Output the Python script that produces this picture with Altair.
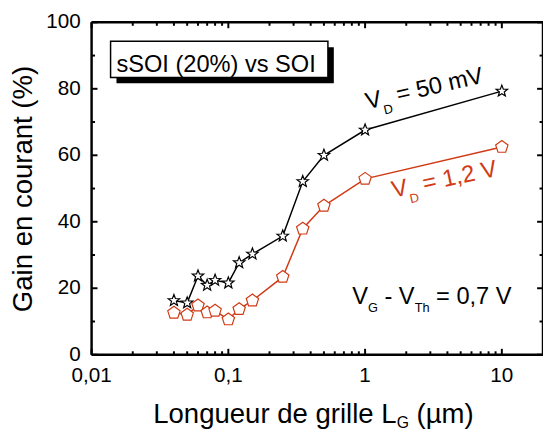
import math
import altair as alt
import pandas as pd

# ---------------- data ----------------
gate_length = [0.04, 0.05, 0.06, 0.07, 0.08, 0.1, 0.12, 0.15, 0.25, 0.35, 0.5, 1, 10]
gain_vd_50mv = [16.3, 15.6, 23.7, 20.9, 22.4, 21.6, 27.7, 30.3, 35.7, 52.1, 60.0, 67.6, 79.3]
gain_vd_1v2 = [12.6, 12.0, 14.8, 12.7, 13.2, 10.6, 13.7, 16.3, 23.4, 37.9, 44.8, 52.9, 62.5]
series_names = ["VD = 50 mV", "VD = 1,2 V"]
x_major = [0.01, 0.1, 1, 10]
x_labels = ["0,01", "0,1", "1", "10"]
x_minor = [0.02, 0.03, 0.04, 0.05, 0.06, 0.07, 0.08, 0.09,
           0.2, 0.3, 0.4, 0.5, 0.6, 0.7, 0.8, 0.9,
           2, 3, 4, 5, 6, 7, 8, 9]
y_major = [0, 20, 40, 60, 80, 100]
y_labels = ["0", "20", "40", "60", "80", "100"]
y_minor = [10, 30, 50, 70, 90]

RED = "#d03a14"
FONT = "Liberation Sans"
W, H = 459, 338

rows = []
for name, vals in zip(series_names, [gain_vd_50mv, gain_vd_1v2]):
    for x, y in zip(gate_length, vals):
        rows.append({"lg": x, "gain": y, "series": name})
df = pd.DataFrame(rows)

xscale = alt.Scale(type="log", domain=[0.01, 20], nice=False)
yscale = alt.Scale(domain=[0, 100], nice=False, zero=False)

STAR = ("M0,-1L0.247,-0.34L0.951,-0.309L0.4,0.13L0.588,0.809L0,0.42"
        "L-0.588,0.809L-0.4,0.13L-0.951,-0.309L-0.247,-0.34Z")
PENT = "M0,-1L0.951,-0.309L0.588,0.809L-0.588,0.809L-0.951,-0.309Z"

color_scale = alt.Scale(domain=series_names, range=["black", RED])

lines = alt.Chart(df).mark_line(strokeWidth=1.5).encode(
    x=alt.X("lg:Q", scale=xscale, axis=None),
    y=alt.Y("gain:Q", scale=yscale, axis=None),
    color=alt.Color("series:N", scale=color_scale, legend=None),
    detail="series:N",
)

points = alt.Chart(df).mark_point(filled=True, fill="white", opacity=1, strokeWidth=1.2).encode(
    x=alt.X("lg:Q", scale=xscale, axis=None),
    y=alt.Y("gain:Q", scale=yscale, axis=None),
    stroke=alt.Stroke("series:N", scale=color_scale, legend=None),
    shape=alt.Shape("series:N", scale=alt.Scale(domain=series_names, range=[STAR, PENT]), legend=None),
    size=alt.Size("series:N", scale=alt.Scale(domain=series_names, range=[150, 175]), legend=None),
)


def xticks(values, size):
    d = pd.DataFrame({"v": values})
    enc_x = alt.X("v:Q", scale=xscale, axis=None)
    bottom = alt.Chart(d).mark_rule(strokeWidth=2, color="black").encode(
        x=enc_x, y=alt.value(H), y2=alt.value(H - size))
    top = alt.Chart(d).mark_rule(strokeWidth=2, color="black").encode(
        x=enc_x, y=alt.value(0), y2=alt.value(size))
    return [bottom, top]


def yticks(values, size):
    d = pd.DataFrame({"v": values})
    enc_y = alt.Y("v:Q", scale=yscale, axis=None)
    left = alt.Chart(d).mark_rule(strokeWidth=2, color="black").encode(
        y=enc_y, x=alt.value(0), x2=alt.value(size))
    right = alt.Chart(d).mark_rule(strokeWidth=2, color="black").encode(
        y=enc_y, x=alt.value(W), x2=alt.value(W - size))
    return [left, right]


ticks = xticks(x_major, 6) + xticks(x_minor, 3.5) + yticks(y_major, 6) + yticks(y_minor, 3.5)

xlab = alt.Chart(pd.DataFrame({"v": x_major, "t": x_labels})).mark_text(
    font=FONT, fontSize=21, color="black", align="center", baseline="alphabetic").encode(
    x=alt.X("v:Q", scale=xscale, axis=None), y=alt.value(H + 28), text="t:N")
ylab = alt.Chart(pd.DataFrame({"v": y_major, "t": y_labels})).mark_text(
    font=FONT, fontSize=21, color="black", align="right", baseline="middle").encode(
    y=alt.Y("v:Q", scale=yscale, axis=None), x=alt.value(-11), text="t:N")

# frame
frame_d = alt.Data(values=[{}])
frame = [
    alt.Chart(frame_d).mark_rule(strokeWidth=2.5, color="black").encode(
        x=alt.value(0), x2=alt.value(W), y=alt.value(0)),
    alt.Chart(frame_d).mark_rule(strokeWidth=2.5, color="black").encode(
        x=alt.value(0), x2=alt.value(W), y=alt.value(H)),
    alt.Chart(frame_d).mark_rule(strokeWidth=2.5, color="black").encode(
        x=alt.value(0), y=alt.value(0), y2=alt.value(H)),
    alt.Chart(frame_d).mark_rule(strokeWidth=2.5, color="black").encode(
        x=alt.value(W), y=alt.value(0), y2=alt.value(H)),
]

# --------------- text helpers ---------------
ARIAL = {' ': .278, '=': .584, '-': .333, ',': .278, 'V': .667, 'D': .722, 'G': .778,
         'T': .611, 'h': .556, 'm': .833, 'L': .556, 'o': .556, 'n': .556, 'g': .556,
         'u': .556, 'e': .556, 'r': .333, 'd': .556, 'i': .222, 'l': .222, '(': .333,
         ')': .333, 'µ': .576, 's': .5, 'S': .667, 'O': .778, 'I': .278, '%': .889, 'v': .5}


def tw(s, size):
    return sum(ARIAL.get(c, .556) for c in s) * size


ONE = alt.Data(values=[{}])


def txt(s, x, y, size, color="black", angle=0, align="left"):
    kw = dict(text=s, font=FONT, fontSize=size, color=color, align=align, baseline="alphabetic")
    if angle:
        kw["angle"] = angle
    return alt.Chart(ONE).mark_text(**kw).encode(x=alt.value(x), y=alt.value(y))


def rich(segments, x0, y0, color="black", rot=0.0):
    """segments: list of (text, size, dy). rot = counter-clockwise degrees."""
    th = math.radians(rot)
    ux, uy = math.cos(th), -math.sin(th)
    nx, ny = math.sin(th), math.cos(th)
    out, a = [], 0.0
    ang = (360 - rot) % 360
    for s, size, dy in segments:
        stripped = s.lstrip(" ")
        a += tw(s[:len(s) - len(stripped)], size)
        px = x0 + a * ux + dy * nx
        py = y0 + a * uy + dy * ny
        out.append(txt(stripped, px, py, size, color, ang))
        a += tw(stripped, size)
    return out


texts = []
texts += rich([("V", 24, 0), ("D", 13, 9), (" = 50 mV", 24, 0)], 280.5, 88.5, "black", 13)
texts += rich([("V", 24, 0), ("D", 13, 9), (" = 1,2 V", 24, 0)], 307, 178.5, RED, 12)
texts += rich([("V", 24, 0), ("G", 13, 9), (" - V", 24, 0), ("Th", 13, 9), (" = 0,7 V", 24, 0)],
              265, 286, "black", 0)
texts += rich([("Longueur de grille L", 28, 0), ("G", 16, 6), (" (µm)", 28, 0)],
              62.7, 407, "black", 0)
texts.append(txt("Gain en courant (%)", -61, 169.5, 28, "black", 270, "center"))

shadow = alt.Chart(ONE).mark_rect(fill="black").encode(
    x=alt.value(25.3), x2=alt.value(246.3), y=alt.value(25.3), y2=alt.value(62))
box = alt.Chart(ONE).mark_rect(fill="white", stroke="black", strokeWidth=1.5).encode(
    x=alt.value(19.3), x2=alt.value(240.3), y=alt.value(19.3), y2=alt.value(56))
box_text = txt("sSOI (20%) vs SOI", 25.3, 50.3, 24)

chart = alt.layer(
    lines, points, *ticks, *frame, xlab, ylab, shadow, box, box_text, *texts
).properties(
    width=W, height=H,
    padding={"left": 85, "top": 11, "right": 0, "bottom": 75},
    autosize=alt.AutoSizeParams(type="none"),
    background="white",
).configure_view(stroke=None)

chart.save("out.html", embed_options={"renderer": "svg", "actions": False})
